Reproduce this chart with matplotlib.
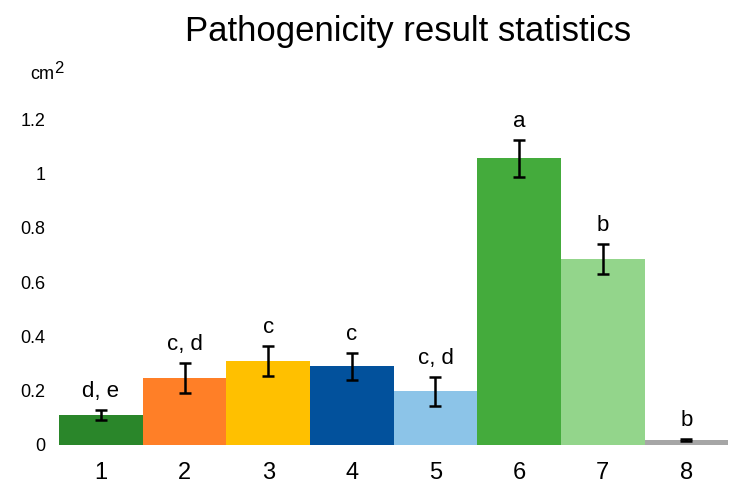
import numpy as np
from matplotlib import pyplot as plt

labels = ["1", "2", "3", "4", "5", "6", "7", "8"]
values = [0.11, 0.247, 0.31, 0.29, 0.197, 1.056, 0.685, 0.018]
errors = [0.02, 0.055, 0.055, 0.05, 0.055, 0.068, 0.055, 0.004]
letters = ["d, e", "c, d", "c", "c", "c, d", "a", "b", "b"]
colors = ["#2a862a", "#ff7f27", "#ffc000", "#02519c", "#8cc4e8",
          "#44ab3c", "#93d58b", "#a6a6a6"]


def draw():
    plt.rcParams['font.family'] = ['Liberation Sans', 'DejaVu Sans']

    fig = plt.figure(figsize=(7.29, 4.9), dpi=100)
    ax = fig.add_axes([0.081, 0.092, 0.918, 0.72])

    x = np.arange(len(labels))
    ax.bar(x, values, width=1.0, color=colors)
    ax.errorbar(x, values, yerr=errors, fmt="none", ecolor="black",
                elinewidth=1.8, capsize=4, capthick=1.8)

    for i in range(len(labels)):
        ax.text(x[i], values[i] + errors[i] + 0.028, letters[i],
                ha="center", va="bottom", fontsize=16)

    ax.set_xlim(-0.5, 7.5)
    ax.set_ylim(0, 1.3)
    ax.set_xticks(x)
    ax.set_xticklabels(labels, fontsize=17)
    ax.set_yticks([0, 0.2, 0.4, 0.6, 0.8, 1.0, 1.2])
    ax.set_yticklabels(["0", "0.2", "0.4", "0.6", "0.8", "1", "1.2"], fontsize=13)
    ax.tick_params(length=0)
    ax.tick_params(axis="x", pad=12)
    ax.tick_params(axis="y", pad=10)
    for s in ax.spines.values():
        s.set_visible(False)

    # unit label, superscript drawn as its own text
    fig.text(0.074, 0.83, "cm", fontsize=13, ha="right", va="bottom")
    fig.text(0.074, 0.845, "2", fontsize=12, ha="left", va="bottom")
    fig.suptitle("Pathogenicity result statistics", fontsize=25, x=0.56, y=0.97)

    fig.savefig("out.png", dpi=100)


if __name__ == '__main__':
    draw()
